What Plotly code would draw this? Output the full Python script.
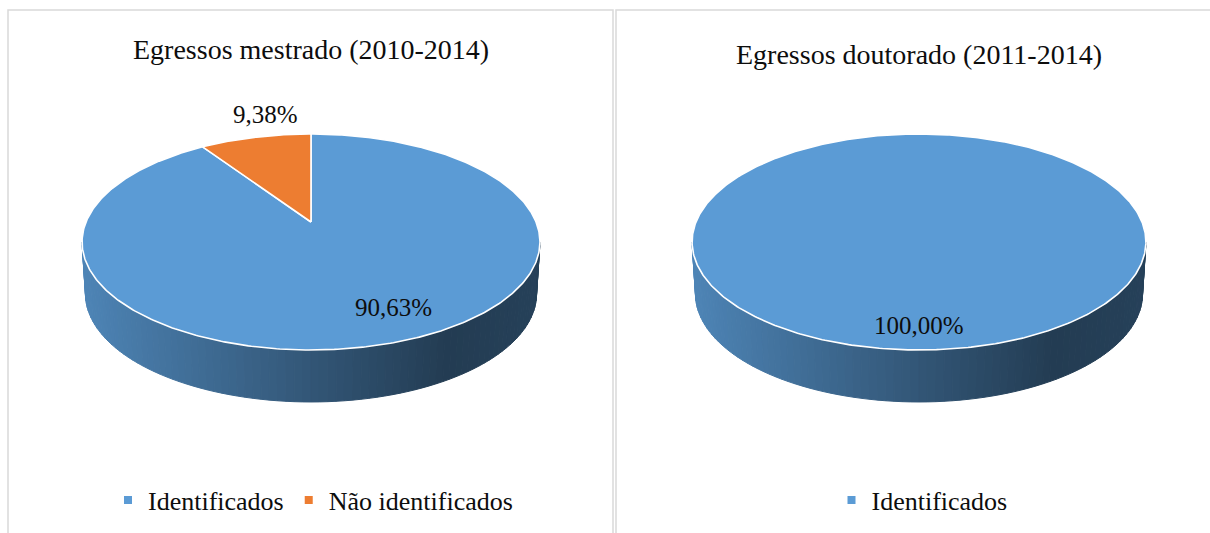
import numpy as np
import plotly.graph_objects as go

# ---------------- data ----------------
master_title = "Egressos mestrado (2010-2014)"
master_categories = ["Identificados", "Não identificados"]
master_values = [90.63, 9.38]

doctor_title = "Egressos doutorado (2011-2014)"
doctor_categories = ["Identificados"]
doctor_values = [100.00]

# ---------------- style ----------------
W, H = 1210, 533
FONT = "Liberation Serif"
TEXT = "#0d0d0d"
COLORS = {"Identificados": "#5B9BD5", "Não identificados": "#ED7D31"}

PANELS = [
    dict(title=master_title, cats=master_categories, vals=master_values,
         cx=311, cy=222, R=225, Hy=104.3, k=0.185, depth=52,
         title_y=49, legend="legend", legend_x=313, box=(8, 613)),
    dict(title=doctor_title, cats=doctor_categories, vals=doctor_values,
         cx=919, cy=222, R=223, Hy=104.3, k=0.185, depth=52,
         title_y=54, legend="legend2", legend_x=922, box=(616, 1212)),
]


def proj(p, t_deg, f=1.0, dy=0.0, shrink=1.0):
    t = np.radians(t_deg)
    u, v = f * np.cos(t), f * np.sin(t)
    w = 1 + p["k"] * v
    x = p["cx"] + shrink * p["R"] * u / w
    y = p["cy"] - p["Hy"] * v / w + dy
    return x, y


def shade(hex_color, factor):
    h = hex_color.lstrip("#")
    r, g, b = (int(h[i:i + 2], 16) for i in (0, 2, 4))
    return "rgb(%d,%d,%d)" % (r * factor, g * factor, b * factor)


def fmt_pct(v):
    return ("%.2f" % v).replace(".", ",") + "%"


fig = go.Figure()
annotations = []

for p in PANELS:
    total = float(sum(p["vals"]))
    slices = []
    start = 90.0
    for cat, val in zip(p["cats"], p["vals"]):
        end = start - 360.0 * val / total
        slices.append((cat, val, start, end))
        start = end

    def owner(tdeg):
        off = (90.0 - tdeg) % 360.0
        acc = 0.0
        for cat, val, a0, a1 in slices:
            acc += 360.0 * val / total
            if off <= acc + 1e-9:
                return cat
        return slices[-1][0]

    # ---- side wall (front half), drawn as shaded strips ----
    a = np.degrees(np.arcsin(p["k"]))
    t_edges = np.linspace(180 + a, 360 - a, 91)
    xl, _ = proj(p, 180 + a)
    xr, _ = proj(p, 360 - a)
    for t0, t1 in zip(t_edges[:-1], t_edges[1:]):
        ts = np.linspace(t0, t1, 4)
        xt, yt = proj(p, ts)
        xb, yb = proj(p, ts[::-1], dy=p["depth"], shrink=0.985)
        xs = np.concatenate([xt, xb, xt[:1]])
        ys = np.concatenate([yt, yb, yt[:1]])
        xm = proj(p, (t0 + t1) / 2)[0]
        s = (xm - xl) / (xr - xl)
        if s < 0.8:
            fac = 0.86 - 0.47 * (s / 0.8) ** 0.95
        else:
            fac = 0.39 + 0.03 * (s - 0.8) / 0.2
        col = shade(COLORS[owner((t0 + t1) / 2)], fac)
        fig.add_trace(go.Scatter(x=xs, y=ys, mode="lines", fill="toself",
                                 fillcolor=col, line=dict(color=col, width=1),
                                 hoverinfo="skip", showlegend=False))

    # ---- top face slices ----
    for cat, val, a0, a1 in slices:
        n = max(8, int(abs(a0 - a1) * 1.5))
        ts = np.linspace(a0, a1, n)
        xs, ys = proj(p, ts)
        if len(slices) > 1:
            xs = np.concatenate([[p["cx"]], xs, [p["cx"]]])
            ys = np.concatenate([[p["cy"]], ys, [p["cy"]]])
        fig.add_trace(go.Scatter(x=xs, y=ys, mode="lines", fill="toself",
                                 fillcolor=COLORS[cat],
                                 line=dict(color="white", width=1.6),
                                 name=cat, hoverinfo="skip", showlegend=False))

    # ---- data labels ----
    for cat, val, a0, a1 in slices:
        mid = (a0 + a1) / 2
        pct = 100.0 * val / total if total else 0
        outside = pct < 15
        f = 1.3 if outside else 0.835
        lx, ly = proj(p, mid, f=f)
        if outside:
            lx += 24
            ly -= 2
        elif len(slices) > 1:
            lx += 18
            ly -= 12
        annotations.append(dict(x=lx, y=ly, xref="x", yref="y", text=fmt_pct(val),
                                showarrow=False, xanchor="center", yanchor="middle",
                                font=dict(family=FONT, size=25, color=TEXT)))

    # ---- legend entries ----
    for cat in p["cats"]:
        fig.add_trace(go.Scatter(x=[None], y=[None], mode="markers", name=cat,
                                 marker=dict(symbol="square", size=8, color=COLORS[cat]),
                                 legend=p["legend"], showlegend=True))

    # ---- title ----
    annotations.append(dict(x=p["cx"], y=p["title_y"], xref="x", yref="y", text=p["title"],
                            showarrow=False, xanchor="center", yanchor="middle",
                            font=dict(family=FONT, size=28, color=TEXT)))

shapes = []
for p in PANELS:
    x0, x1 = p["box"]
    shapes.append(dict(type="rect", xref="x", yref="y", x0=x0, x1=x1, y0=10, y1=540,
                       line=dict(color="#d9d9d9", width=1.5), fillcolor="rgba(0,0,0,0)",
                       layer="below"))

legend_common = dict(orientation="h", xanchor="center", yanchor="middle",
                     font=dict(family=FONT, size=26, color=TEXT),
                     bgcolor="rgba(0,0,0,0)", itemclick=False, itemdoubleclick=False)

fig.update_layout(
    width=W, height=H,
    margin=dict(l=0, r=0, t=0, b=0),
    paper_bgcolor="white", plot_bgcolor="white",
    font=dict(family=FONT, color=TEXT),
    xaxis=dict(range=[0, W], visible=False, fixedrange=True),
    yaxis=dict(range=[H, 0], visible=False, fixedrange=True),
    annotations=annotations,
    shapes=shapes,
    legend=dict(x=PANELS[0]["legend_x"] / W, y=1 - 500 / H, **legend_common),
    legend2=dict(x=PANELS[1]["legend_x"] / W, y=1 - 500 / H, **legend_common),
)

fig.write_html("out.html", config={"displayModeBar": False},
               post_script="document.body.style.margin='0';document.body.style.padding='0';")
